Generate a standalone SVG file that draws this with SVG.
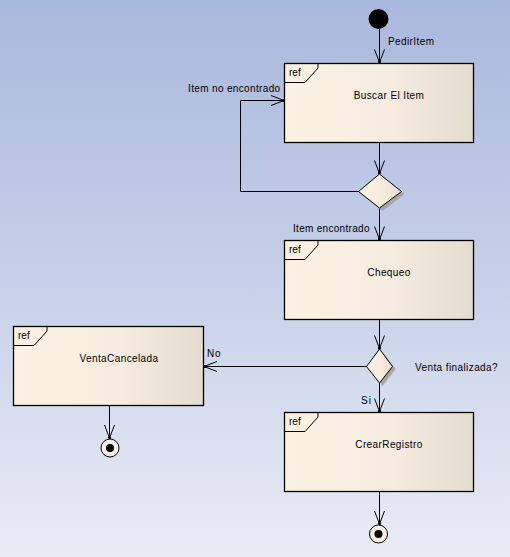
<svg xmlns="http://www.w3.org/2000/svg" width="510" height="557" viewBox="0 0 510 557">
<defs>
<linearGradient id="bg" x1="0" y1="0" x2="0" y2="1">
<stop offset="0" stop-color="#a9b8dd"/>
<stop offset="0.5" stop-color="#c6d0e8"/>
<stop offset="1" stop-color="#e9ecf5"/>
</linearGradient>
<linearGradient id="boxfill" x1="0" y1="0" x2="1" y2="0">
<stop offset="0" stop-color="#fbf1e3"/>
<stop offset="0.55" stop-color="#f6ede0"/>
<stop offset="1" stop-color="#e4dccf"/>
</linearGradient>
<marker id="arr" markerUnits="userSpaceOnUse" markerWidth="16" markerHeight="14" viewBox="-14 -7 16 14" refX="0" refY="0" orient="auto">
<path d="M-13,-5 L0,0 L-13,5" fill="none" stroke="#000" stroke-width="1"/>
<circle cx="-0.5" cy="0" r="1.6" fill="#000"/>
</marker>
<style>
.box{fill:url(#boxfill);stroke:#000;stroke-width:1.3}
.tab{fill:none;stroke:#000;stroke-width:1}
.dia{fill:url(#boxfill);stroke:#000;stroke-width:1}
.sh{fill:#a6a6a6}
.t{font-family:"Liberation Sans",Arial,sans-serif;font-size:10px;fill:#000}
.c{text-anchor:middle;letter-spacing:0.4px}
.ln{fill:none;stroke:#000;stroke-width:1;marker-end:url(#arr)}
</style>
</defs>
<rect x="0" y="0" width="510" height="557" fill="url(#bg)"/>

<g id="connectors">
<path class="ln" d="M379.5,29 V62.5"/>
<path class="ln" d="M379.5,142.5 V173.5"/>
<path class="ln" d="M358.5,191.5 H240.5 V100.5 H284"/>
<path class="ln" d="M379.5,208 V239.5"/>
<path class="ln" d="M379.5,319.5 V348.5"/>
<path class="ln" d="M366.5,366.5 H204"/>
<path class="ln" d="M379.5,383 V411.5"/>
<path class="ln" d="M109.5,405.5 V438"/>
<path class="ln" d="M379.5,491.5 V524"/>
<text class="t" x="388" y="45" letter-spacing="0.4">PedirItem</text>
<text class="t" x="188" y="92" letter-spacing="0.35">Item no encontrado</text>
<text class="t" x="293" y="232" letter-spacing="0.3">Item encontrado</text>
<text class="t" x="207" y="357" letter-spacing="0.8">No</text>
<text class="t" x="415" y="371" letter-spacing="0.4">Venta finalizada?</text>
<text class="t" x="361" y="404" letter-spacing="1">Si</text>
</g>

<g id="initial">
<circle cx="378.5" cy="19" r="10" fill="#000"/>
</g>

<g id="buscar">
<rect class="box" x="284.5" y="63.5" width="189" height="79"/>
<path class="tab" d="M284.5,82.5 H305 L318,68 V63.5"/>
<text class="t" x="289" y="76">ref</text>
<text class="t c" x="389" y="99">Buscar El Item</text>
</g>

<g id="decision1">
<polygon class="sh" points="382.5,177 404.5,194 382.5,211 361.5,194"/>
<polygon class="dia" points="379.5,174 401.5,191.5 379.5,208 358.5,191.5"/>
</g>

<g id="chequeo">
<rect class="box" x="284.5" y="240.5" width="189" height="79"/>
<path class="tab" d="M284.5,259.5 H305 L318,245 V240.5"/>
<text class="t" x="289" y="253">ref</text>
<text class="t c" x="389" y="276">Chequeo</text>
</g>

<g id="decision2">
<polygon class="sh" points="382.5,352 395.5,369 382.5,386 369.5,369"/>
<polygon class="dia" points="379.5,349 392.5,366.5 379.5,383 366.5,366.5"/>
</g>

<g id="ventaCancelada">
<rect class="box" x="13.5" y="326.5" width="190" height="79"/>
<path class="tab" d="M13.5,345.5 H34 L47,331 V326.5"/>
<text class="t" x="18" y="339">ref</text>
<text class="t c" x="119" y="362">VentaCancelada</text>
</g>

<g id="crearRegistro">
<rect class="box" x="284.5" y="412.5" width="189" height="79"/>
<path class="tab" d="M284.5,431.5 H305 L318,417 V412.5"/>
<text class="t" x="289" y="425">ref</text>
<text class="t c" x="389" y="448">CrearRegistro</text>
</g>

<g id="final1">
<circle cx="110" cy="448" r="9" fill="#f8efe2" stroke="#000" stroke-width="1"/>
<circle cx="110" cy="448" r="4" fill="#000"/>
</g>

<g id="final2">
<circle cx="378.5" cy="534" r="9" fill="#f8efe2" stroke="#000" stroke-width="1"/>
<circle cx="378.5" cy="534" r="4" fill="#000"/>
</g>
</svg>
